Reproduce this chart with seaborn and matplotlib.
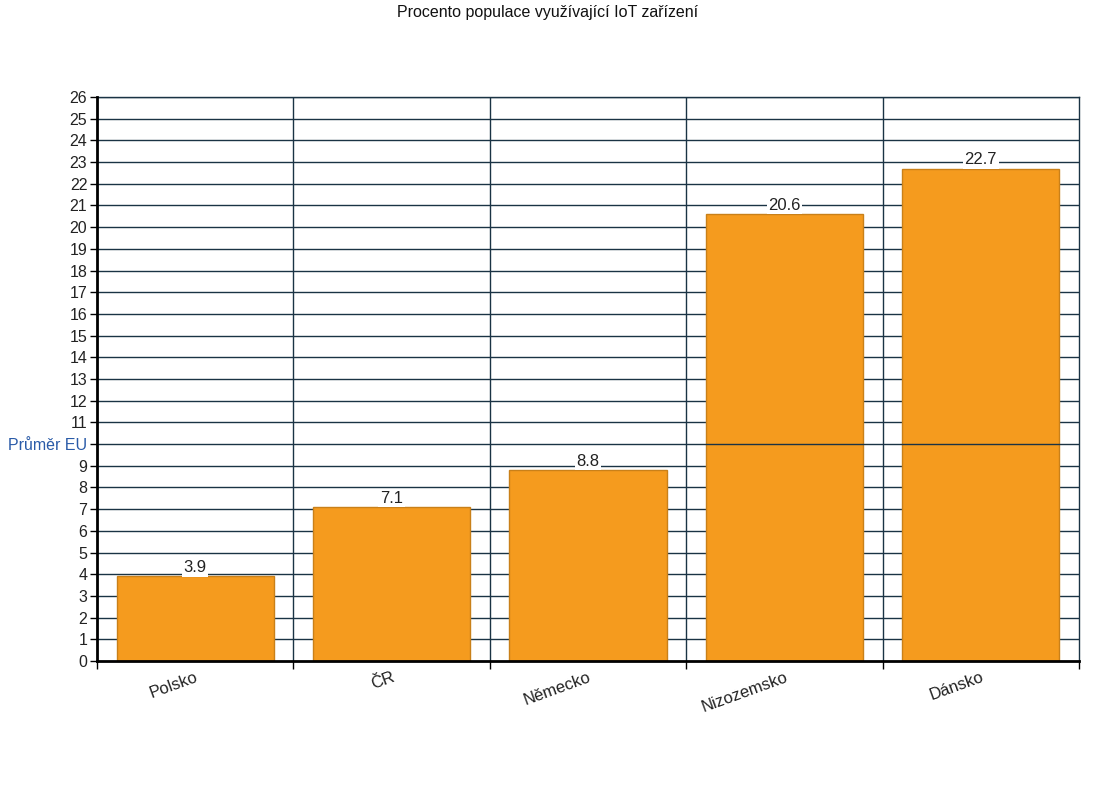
import matplotlib
matplotlib.use("Agg")
import matplotlib.pyplot as plt
import seaborn as sns
import pandas as pd
import numpy as np

categories = ["Polsko", "ČR", "Německo", "Nizozemsko", "Dánsko"]
values = [3.9, 7.1, 8.8, 20.6, 22.7]
eu_average = 10
eu_label = "Průměr EU"
title = "Procento populace využívající IoT zařízení"

sns.set_theme(style="white")
plt.rcParams['font.family'] = ['Liberation Sans', 'DejaVu Sans']

GRID = "#1a3344"
BAR = "#F59B1E"
EDGE = "#C98019"

fig = plt.figure(figsize=(10.95, 8.05), dpi=100)
ax = fig.add_axes([97/1095, 144/805, (1079-97)/1095, (661-97)/805])

df = pd.DataFrame({"cat": categories, "val": values})
sns.barplot(data=df, x="cat", y="val", color=BAR, edgecolor=EDGE, linewidth=1,
            width=0.8, saturation=1, ax=ax, zorder=2)

ax.set_xlim(-0.5, len(categories) - 0.5)
ax.set_ylim(0, 26)

yt = list(range(0, 27))
ax.set_yticks(yt)
ax.set_yticklabels([eu_label if v == eu_average else str(v) for v in yt])
for lbl, v in zip(ax.get_yticklabels(), yt):
    if v == eu_average:
        lbl.set_color("#2a5ba8")
    else:
        lbl.set_color("#222222")
ax.tick_params(axis="y", length=5, width=1, color="black", labelsize=11.5, pad=2, direction="out", left=True)

# horizontal grid behind bars, except EU average line in front
for v in yt:
    if v == 0:
        continue
    ax.axhline(v, color=GRID, lw=1, zorder=(3 if v == eu_average else 1))

# vertical boundaries between categories
bounds = np.arange(len(categories) + 1) - 0.5
for b in bounds[1:-1]:
    ax.axvline(b, color=GRID, lw=1, zorder=1)

ax.set_xticks(bounds, minor=True)
ax.set_xticks(np.arange(len(categories)))
ax.set_xticklabels(categories, rotation=20, ha="right", rotation_mode="anchor", fontsize=12, color="#222222")
ax.tick_params(axis="x", which="major", length=0, pad=6)
ax.tick_params(axis="x", which="minor", length=6, width=1, color="black", bottom=True)

ax.set_xlabel("")
ax.set_ylabel("")

for side in ["left", "bottom"]:
    ax.spines[side].set_color("black")
    ax.spines[side].set_linewidth(2)
    ax.spines[side].set_zorder(4)
for side in ["top", "right"]:
    ax.spines[side].set_color(GRID)
    ax.spines[side].set_linewidth(1)

ax.bar_label(ax.containers[0], labels=[f"{v:.1f}" for v in values], padding=1, fontsize=12,
             color="#222222", bbox=dict(facecolor="white", edgecolor="none", pad=1.2), zorder=5)

fig.text(0.5, 1 - 12/805, title, ha="center", va="center", fontsize=11.5, color="#111111")

fig.savefig("out.png", dpi=100, facecolor="white")
